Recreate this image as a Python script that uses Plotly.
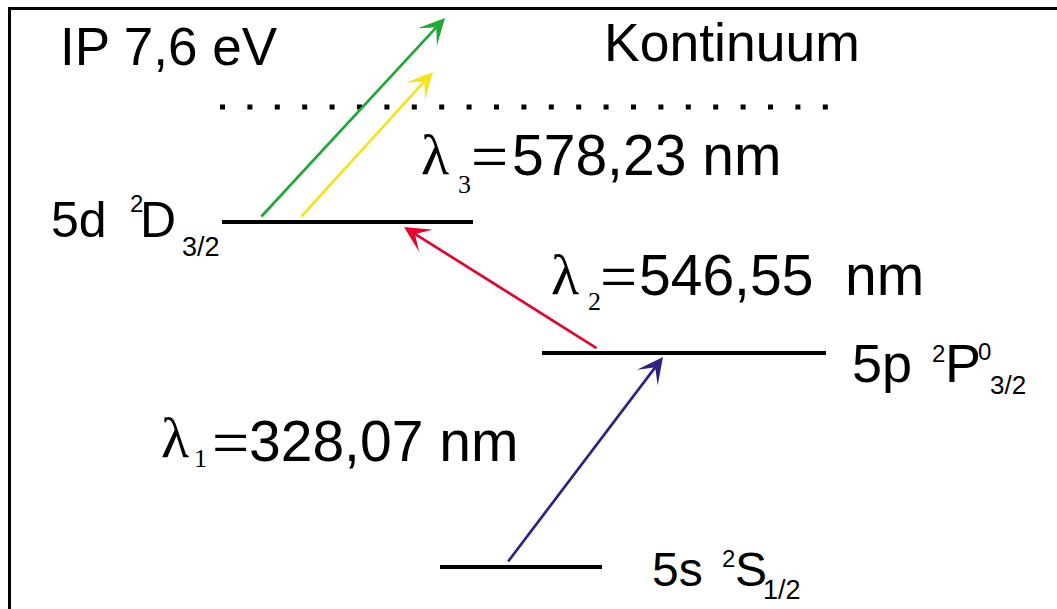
import plotly.graph_objects as go

# ---------------- data (schematic drawing units: x across, y = level height, downward axis) -------------
level_names = ["5s", "5p", "5d"]
level_sup = ["2", "2", "2"]
level_letter = ["S", "P", "D"]
level_sup2 = ["", "0", ""]
level_sub = ["1/2", "3/2", "3/2"]
level_y = [567, 353, 222]
level_x0 = [440, 542, 222]
level_x1 = [602, 826, 473]

ion_label = "IP 7,6 eV"
continuum_label = "Kontinuum"
ion_y = 107
ion_x = [220, 831]

wl_sub = ["1", "2", "3"]
wl_text = ["328,07 nm", "546,55\u00a0\u00a0nm", "578,23 nm"]

arrow_tail_x = [507, 598, 260, 300]
arrow_tail_y = [563, 349, 218, 218]
arrow_tip_x = [663, 404, 445, 433]
arrow_tip_y = [357, 227, 18, 72]
arrow_colors = ["#2E2381", "#E2062F", "#22A836", "#F2E41E"]

SANS = "Liberation Sans, Arial, sans-serif"
SERIF = "Liberation Serif, Times New Roman, serif"

fig = go.Figure()

# frame
fig.add_shape(type="rect", xref="x", yref="y", x0=9.5, x1=1080, y0=8.5, y1=640,
              line=dict(color="black", width=3), fillcolor="rgba(0,0,0,0)")

# energy levels
for x0, x1, y in zip(level_x0, level_x1, level_y):
    fig.add_trace(go.Scatter(x=[x0, x1], y=[y, y], mode="lines",
                             line=dict(color="black", width=4), hoverinfo="skip"))

# ionisation limit (dotted)
fig.add_trace(go.Scatter(x=ion_x, y=[ion_y, ion_y], mode="lines",
                         line=dict(color="black", width=5, dash="5px,22.4px"), hoverinfo="skip"))

# transition arrows
for tx, ty, hx, hy, c in zip(arrow_tail_x, arrow_tail_y, arrow_tip_x, arrow_tip_y, arrow_colors):
    fig.add_annotation(x=hx, y=hy, ax=tx, ay=ty, xref="x", yref="y", axref="x", ayref="y",
                       text="", showarrow=True, arrowhead=3, arrowsize=1.6,
                       arrowwidth=2.7, arrowcolor=c, standoff=0)


def txt(text, x_left, baseline, size, family=SANS):
    k = 0.3465 if family == SANS else 0.3375
    fig.add_annotation(x=x_left, y=baseline - k * size, text=text, xref="x", yref="y",
                       xanchor="left", yanchor="middle", showarrow=False, borderpad=0,
                       font=dict(size=size, family=family, color="black"))


# headers
txt(ion_label, 59, 65, 53)
txt(continuum_label, 603, 61, 53.5)

# wavelength labels: (lambda x, baseline, sub x, sub baseline, '=' x, number x, number baseline)
wl_pos = [
    (160, 457, 193, 467, 211, 248, 461),
    (550, 294, 587, 310, 599, 638, 295),
    (420, 174, 457, 193, 470, 511, 175),
]
for (lx, lb, sx, sb, ex, nx, nb), s, t in zip(wl_pos, wl_sub, wl_text):
    txt("λ", lx, lb, 58, SERIF)
    txt(s, sx, sb, 26, SERIF)
    txt("=", ex, nb + 4, 66, SERIF)
    txt(t, nx, nb, 57)

# level labels: (name x, baseline, size, sup x, sup baseline, letter x, sup2 x, sub x, sub baseline, sub size)
lab_pos = [
    (651, 586, 48, 721, 567, 734, None, 762, 599, 27),
    (851, 382, 54, 931, 362, 944, 977, 989, 394, 26),
    (50, 237, 50, 129, 212, 139, None, 181, 256, 27),
]
for (nx, nb, ns, px, pb, lx, p2x, bx, bb, bs), n, sp, L, sp2, sb in zip(
        lab_pos, level_names, level_sup, level_letter, level_sup2, level_sub):
    txt(n, nx, nb, ns)
    txt(sp, px, pb, 24)
    txt(L, lx, nb, ns)
    if sp2:
        txt(sp2, p2x, pb - 2, 24)
    txt(sb, bx, bb, bs)

fig.update_layout(
    width=1057, height=609, margin=dict(l=0, r=0, t=0, b=0),
    paper_bgcolor="white", plot_bgcolor="white", showlegend=False,
    xaxis=dict(range=[0, 1057], visible=False, fixedrange=True),
    yaxis=dict(range=[609, 0], visible=False, fixedrange=True),
)

fig.write_html("out.html", config={"displayModeBar": False},
               post_script="document.body.style.margin='0';document.body.style.padding='0';"
                           "document.body.style.overflow='hidden';")
